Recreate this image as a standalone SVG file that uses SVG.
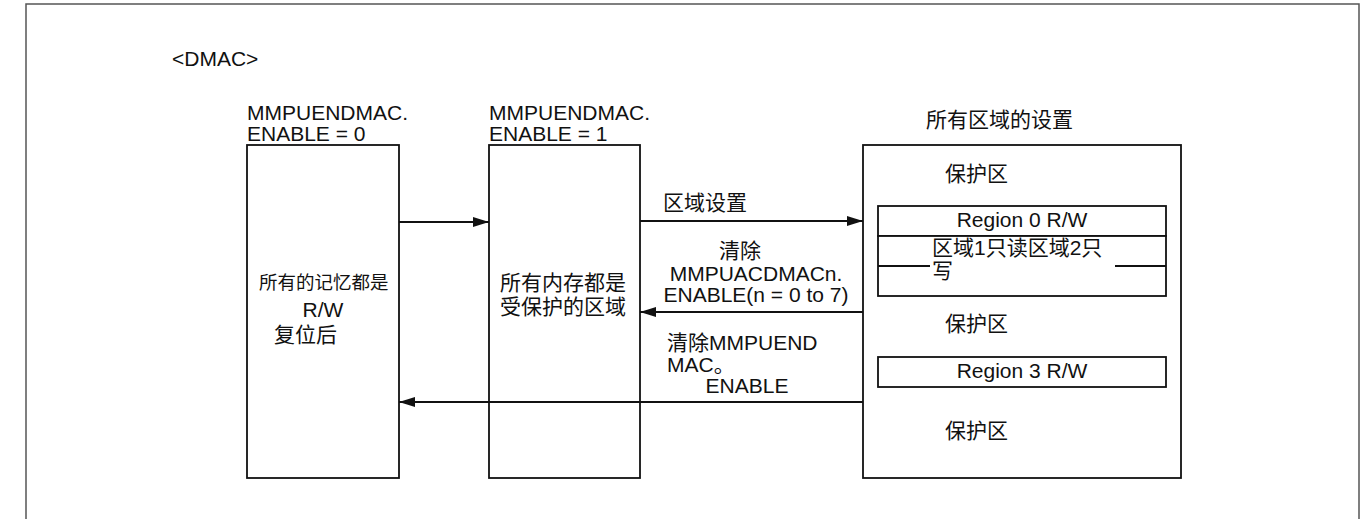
<svg xmlns="http://www.w3.org/2000/svg" width="1370" height="519" viewBox="0 0 1370 519">
<style>
text{font-family:"Liberation Sans","Noto Sans CJK SC",sans-serif;font-size:21px;fill:#111}
.cjk{font-size:21px}
.sm{font-size:18.5px}
.box{fill:#fff;stroke:#111;stroke-width:1.8}
.ln{stroke:#111;stroke-width:1.8;fill:none}
.mid{text-anchor:middle}
</style>
<defs>
<marker id="ah" viewBox="0 0 16 10" refX="16" refY="5" markerWidth="16" markerHeight="10" markerUnits="userSpaceOnUse" orient="auto">
<path d="M0,0 L16,5 L0,10 Z" fill="#111"/>
</marker>
</defs>
<rect width="1370" height="519" fill="#fff"/>
<path d="M26,519 V4 H1359 V519" fill="none" stroke="#555" stroke-width="1.5"/>
<text x="172" y="66">&lt;DMAC&gt;</text>

<g id="state0">
<text x="247" y="120">MMPUENDMAC.</text>
<text x="247" y="141">ENABLE = 0</text>
<rect class="box" x="247" y="145" width="152" height="333"/>
<text class="sm" x="259" y="289">所有的记忆都是</text>
<text class="mid" x="323" y="317">R/W</text>
<text class="cjk" x="274" y="342">复位后</text>
</g>

<g id="state1">
<text x="489" y="120">MMPUENDMAC.</text>
<text x="489" y="141">ENABLE = 1</text>
<rect class="box" x="489" y="145" width="151" height="333"/>
<text class="cjk" x="500" y="290">所有内存都是</text>
<text class="cjk" x="500" y="314">受保护的区域</text>
</g>

<g id="regions">
<text class="cjk" x="926" y="127">所有区域的设置</text>
<rect class="box" x="863" y="145" width="318" height="333"/>
<text class="cjk" x="945" y="181">保护区</text>
<rect class="box" x="878" y="206" width="288" height="30"/>
<text class="mid" x="1022" y="227">Region 0 R/W</text>
<rect class="box" x="878" y="236" width="288" height="60"/>
<line class="ln" x1="878" y1="266" x2="930" y2="266"/>
<line class="ln" x1="1115" y1="266" x2="1166" y2="266"/>
<text class="cjk" x="932" y="255">区域1只读区域2只</text>
<text class="cjk" x="932" y="278">写</text>
<text class="cjk" x="945" y="331">保护区</text>
<rect class="box" x="878" y="357" width="288" height="30"/>
<text class="mid" x="1022" y="378">Region 3 R/W</text>
<text class="cjk" x="945" y="438">保护区</text>
</g>

<g id="connectors">
<line class="ln" x1="399" y1="222" x2="489" y2="222" marker-end="url(#ah)"/>
<line class="ln" x1="640" y1="221" x2="863" y2="221" marker-end="url(#ah)"/>
<line class="ln" x1="863" y1="312" x2="640" y2="312" marker-end="url(#ah)"/>
<line class="ln" x1="863" y1="402" x2="399" y2="402" marker-end="url(#ah)"/>
<text class="cjk" x="663" y="210">区域设置</text>
<text class="cjk mid" x="740" y="258">清除</text>
<text class="mid" x="756" y="281">MMPUACDMACn.</text>
<text class="mid" x="756" y="302">ENABLE(n = 0 to 7)</text>
<text x="667" y="350">清除MMPUEND</text>
<text x="667" y="372">MAC。</text>
<text class="mid" x="747" y="393">ENABLE</text>
</g>
</svg>
